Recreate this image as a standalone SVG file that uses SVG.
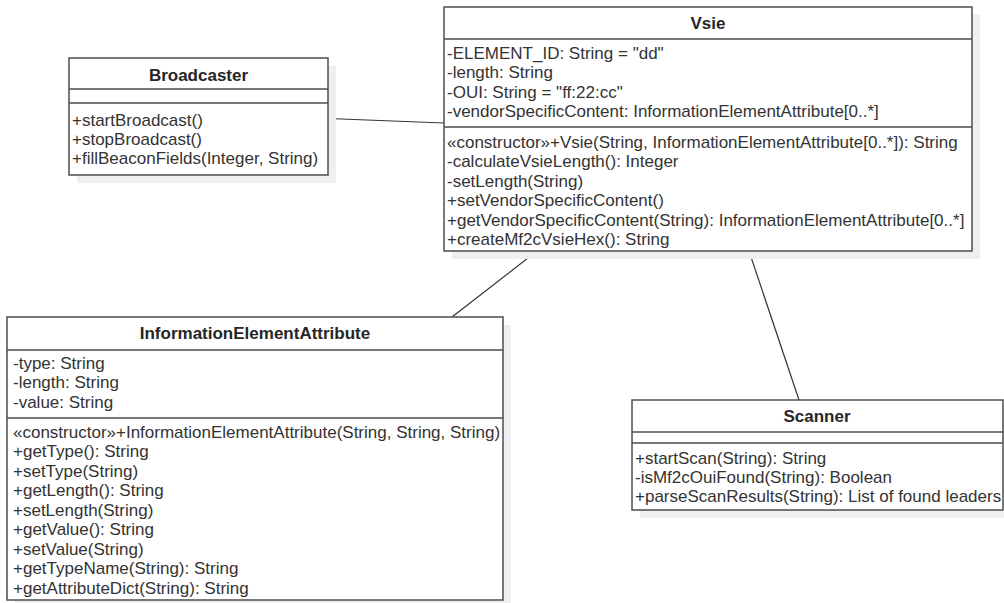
<svg xmlns="http://www.w3.org/2000/svg" width="1004" height="603" viewBox="0 0 1004 603">
  <style>
    .shadow { fill: #efefef; stroke: none; }
    .box { fill: #ffffff; stroke: #4d4d4d; stroke-width: 1.5; }
    .sep { stroke: #4d4d4d; stroke-width: 1.5; }
    .title { font-family: "Liberation Sans", Arial, sans-serif; font-size: 17px; font-weight: bold; fill: #262626; text-anchor: middle; }
    .member { font-family: "Liberation Sans", Arial, sans-serif; font-size: 17px; fill: #333333; }
    .link { stroke: #333333; stroke-width: 1.2; fill: none; }
  </style>

  <!-- associations -->
  <g id="connectors">
    <line class="link" x1="328" y1="118.5" x2="444" y2="123"/>
    <line class="link" x1="537" y1="251" x2="452" y2="317"/>
    <line class="link" x1="749" y1="251" x2="799" y2="400"/>
  </g>

  <!-- Broadcaster class -->
  <g id="broadcaster">
    <rect class="shadow" x="77" y="66" width="259" height="117"/>
    <rect class="box" x="69" y="58" width="259" height="117"/>
    <line class="sep" x1="69" y1="89" x2="328" y2="89"/>
    <line class="sep" x1="69" y1="103" x2="328" y2="103"/>
    <text class="title" x="198.5" y="80.5">Broadcaster</text>
    <text class="member" x="72" y="126">+startBroadcast()</text>
    <text class="member" x="72" y="145">+stopBroadcast()</text>
    <text class="member" x="72" y="164">+fillBeaconFields(Integer, String)</text>
  </g>

  <!-- Vsie class -->
  <g id="vsie">
    <rect class="shadow" x="452" y="15" width="528" height="244"/>
    <rect class="box" x="444" y="7" width="528" height="244"/>
    <line class="sep" x1="444" y1="39" x2="972" y2="39"/>
    <line class="sep" x1="444" y1="127" x2="972" y2="127"/>
    <text class="title" x="708" y="29">Vsie</text>
    <text class="member" x="447" y="58.5">-ELEMENT_ID: String = "dd"</text>
    <text class="member" x="447" y="78">-length: String</text>
    <text class="member" x="447" y="97.5">-OUI: String = "ff:22:cc"</text>
    <text class="member" x="447" y="117">-vendorSpecificContent: InformationElementAttribute[0..*]</text>
    <text class="member" x="447" y="147.5">«constructor»+Vsie(String, InformationElementAttribute[0..*]): String</text>
    <text class="member" x="447" y="167">-calculateVsieLength(): Integer</text>
    <text class="member" x="447" y="186.5">-setLength(String)</text>
    <text class="member" x="447" y="206">+setVendorSpecificContent()</text>
    <text class="member" x="447" y="225.5">+getVendorSpecificContent(String): InformationElementAttribute[0..*]</text>
    <text class="member" x="447" y="245">+createMf2cVsieHex(): String</text>
  </g>

  <!-- InformationElementAttribute class -->
  <g id="information-element-attribute">
    <rect class="shadow" x="15" y="325" width="496" height="283"/>
    <rect class="box" x="7" y="317" width="496" height="283"/>
    <line class="sep" x1="7" y1="350" x2="503" y2="350"/>
    <line class="sep" x1="7" y1="418" x2="503" y2="418"/>
    <text class="title" x="255" y="339">InformationElementAttribute</text>
    <text class="member" x="13" y="368.5">-type: String</text>
    <text class="member" x="13" y="388">-length: String</text>
    <text class="member" x="13" y="407.5">-value: String</text>
    <text class="member" x="13" y="437.5">«constructor»+InformationElementAttribute(String, String, String)</text>
    <text class="member" x="13" y="457">+getType(): String</text>
    <text class="member" x="13" y="476.5">+setType(String)</text>
    <text class="member" x="13" y="496">+getLength(): String</text>
    <text class="member" x="13" y="515.5">+setLength(String)</text>
    <text class="member" x="13" y="535">+getValue(): String</text>
    <text class="member" x="13" y="554.5">+setValue(String)</text>
    <text class="member" x="13" y="574">+getTypeName(String): String</text>
    <text class="member" x="13" y="593.5">+getAttributeDict(String): String</text>
  </g>

  <!-- Scanner class -->
  <g id="scanner">
    <rect class="shadow" x="640" y="408" width="371" height="110"/>
    <rect class="box" x="632" y="400" width="371" height="110"/>
    <line class="sep" x1="632" y1="432" x2="1003" y2="432"/>
    <line class="sep" x1="632" y1="443" x2="1003" y2="443"/>
    <text class="title" x="817" y="422">Scanner</text>
    <text class="member" x="635" y="464">+startScan(String): String</text>
    <text class="member" x="635" y="483">-isMf2cOuiFound(String): Boolean</text>
    <text class="member" x="635" y="502">+parseScanResults(String): List of found leaders</text>
  </g>
</svg>
